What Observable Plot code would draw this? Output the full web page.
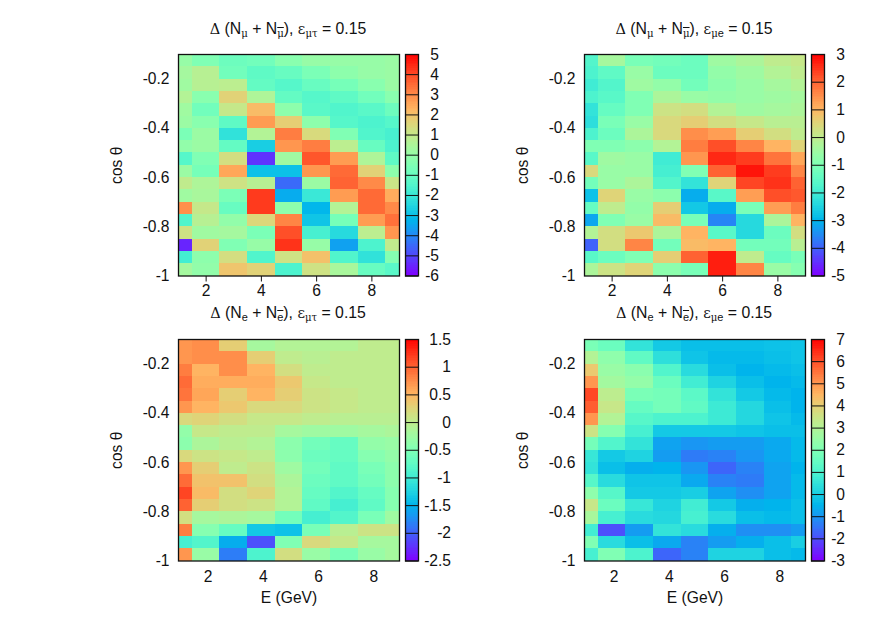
<!DOCTYPE html>
<html><head><meta charset="utf-8">
<script src="https://cdn.jsdelivr.net/npm/d3@7"></script>
<script src="https://cdn.jsdelivr.net/npm/@observablehq/plot@0.6"></script>
<style>
html,body{margin:0;padding:0;background:#fff}
#chart{position:relative;width:893px;height:625px;overflow:hidden;font-family:"Liberation Sans",Arial,sans-serif;color:#111}
#chart svg{position:absolute;background:transparent;max-width:none;overflow:visible}
.ttl{position:absolute;width:300px;text-align:center;font-size:15.8px;line-height:18px;white-space:nowrap}
.ttl sub{font-size:11px;line-height:0;vertical-align:-3px}
.ttl i{font-style:normal;font-family:"DejaVu Serif","Liberation Serif",serif;font-size:.92em}
.ov{text-decoration:overline}
</style></head><body><div id="chart"></div>
<script>
const energyEdges=[1,1.5,2.5,3.5,4.5,5.5,6.5,7.5,8.5,9];
const cosEdges=[-0.1,-0.15,-0.2,-0.25,-0.3,-0.35,-0.4,-0.45,-0.5,-0.55,-0.6,-0.65,-0.7,-0.75,-0.8,-0.85,-0.9,-0.95,-1];
const cosTicks=[-1,-0.8,-0.6,-0.4,-0.2];
const energyTicks=[2,4,6,8];
const muTau=[
[0,-0.5,-0.9,-0.8,-0.3,0,0,0,0.1],
[0.3,0.7,-0.8,-1.2,-1,-0.6,-0.2,0,0.1],
[0.2,0.7,0.8,-1.1,-1.4,-1,-0.7,-0.3,0.1],
[0.6,-0.3,1.6,0.5,-1.1,-1.4,-1.2,-0.8,-0.3],
[0.2,-0.8,1,2.1,-0.2,-1.3,-1.5,-1.3,-0.9],
[0.1,-0.3,-1.2,2.7,1.7,-0.2,-1.4,-1.6,-1.4],
[-0.6,0.1,-2.2,0.6,3.2,1.4,-0.5,-1.5,-1.7],
[-0.1,0.1,-1.1,-2.7,2.8,3.2,0.8,-1,-1.6],
[-1.4,-0.5,1.3,-5.3,0.2,3.8,2.7,0.5,-1.2],
[0.1,-0.7,2.5,-3,-3,2.8,3.5,1.6,-0.2],
[0.9,0.5,1.2,0.7,-4.5,0.1,3.6,3,1.1],
[0.2,0.4,-0.6,4.2,-3.4,-2,2.7,3.5,2.4],
[2.9,1,-1,4.2,-0.2,-3.2,0.6,3.5,3],
[-1.5,0.7,-0.1,1.5,3.1,-2.9,-0.7,2.7,3.4],
[1.2,0.2,0.3,-0.6,3.9,-1.7,-2.4,0.8,2.8],
[-5.5,1.6,-0.5,0,4.3,0,-3.6,-1.6,0.9],
[-1.8,-0.2,1.3,-1.5,1.2,2,-1.5,-2.2,-0.4],
[0.3,-0.1,1.9,1.6,-1.6,1.2,0.4,-1,-1.3]];
const muE=[
[-1.7,-0.4,-1.1,-1.2,-1.3,-0.5,-0.3,0,0.1],
[-1.8,-1.5,-0.6,-1.3,-1.3,-0.7,-0.5,-0.2,0],
[-2,-1.7,-0.5,-0.7,-1.2,-0.8,-0.6,-0.4,-0.2],
[-1.8,-1.6,-1,-0.3,-0.6,-0.7,-0.6,-0.5,-0.4],
[-2.2,-1.4,-1,0.2,0.3,-0.2,-0.5,-0.4,-0.3],
[-2.3,-1.1,-0.6,0.4,0.6,0.3,0.1,-0.1,-0.1],
[-1.8,-1.3,-0.3,0.4,1.5,1.3,0.6,0.3,0],
[-1,-1,-0.8,-0.2,1.7,2.2,1.6,1,0.5],
[-1.6,-0.5,-0.6,-2,1.4,2.6,2.4,1.8,1.2],
[0.4,-0.6,-0.6,-1.9,-1,2,2.8,2.4,1.6],
[-1.2,-0.6,-0.3,-1.7,-2.2,0.5,2.3,2.5,2],
[-2.8,0.5,-0.6,-0.8,-3.1,-1.6,1.3,2.2,2.1],
[-1.4,0,-0.7,0.6,-2.7,-3.1,-1.1,1.3,1.7],
[-3.2,-1,-0.6,0.9,-1.1,-3.6,-2.4,-0.3,1],
[-0.2,0.3,0.7,-0.3,1,-1.6,-2.4,-1.3,0.3],
[-4,0.3,1.6,-1.2,0.9,1,-1.2,-1.2,-0.1],
[-1.6,-1.3,-1,0.6,2,2.7,0,-1.4,-1.1],
[-0.3,0.2,0.5,-0.8,-1.1,2.7,1.6,-0.6,-0.9]];
const eTau=[
[0.7,0.75,0.3,-0.2,-0.1,-0.1,-0.1,0,0],
[0.7,0.75,0.75,0.3,0,-0.05,0,0,0],
[0.85,0.5,0.75,0.5,0.15,0,0,0,0],
[0.95,0.55,0.55,0.55,0.35,0.05,0,0,0],
[0.9,0.6,0.3,0.5,0.3,0.1,0.05,0,0],
[0.7,0.5,0.35,0.2,0.2,0.1,0.05,0,0],
[0.2,0.25,0.15,0.05,0.05,0,-0.05,-0.05,-0.05],
[-0.35,0.05,0,0,-0.2,-0.25,-0.25,-0.2,-0.15],
[-0.4,-0.15,-0.05,-0.1,-0.4,-0.6,-0.7,-0.35,-0.3],
[0.2,0.1,0.05,0,-0.4,-0.65,-0.7,-0.45,-0.35],
[0.7,0.3,0,0.1,-0.25,-0.6,-0.75,-0.55,-0.4],
[0.95,0.4,0.4,0.15,-0.15,-0.65,-0.75,-0.6,-0.4],
[1.15,0.45,0.15,0.25,-0.1,-0.7,-0.85,-0.7,-0.45],
[1,0.3,0.15,0.1,-0.1,-0.75,-0.95,-0.75,-0.45],
[0.15,-0.2,-0.15,-0.2,-0.6,-0.95,-0.85,-0.55,-0.25],
[0.85,-0.45,-0.7,-1.35,-1.4,-0.55,-0.05,0.1,0.1],
[-0.95,-0.85,-1.55,-2.1,-0.5,0.2,0.05,-0.2,-0.2],
[0.7,-0.3,-1.85,-0.9,0.15,-0.3,-0.55,-0.3,-0.2]];
const eE=[
[1.9,1.6,0.5,-0.1,-0.3,-0.3,-0.3,-0.25,-0.2],
[3,2.3,1.4,0.4,-0.2,-0.4,-0.4,-0.3,-0.2],
[4.1,2.5,2.2,1.1,0.3,-0.3,-0.5,-0.4,-0.3],
[5,2.7,2.4,1.6,0.8,0.1,-0.3,-0.5,-0.4],
[6.1,3.2,1.9,1.8,1.3,0.5,-0.1,-0.4,-0.5],
[5.8,3.4,1.5,1.8,1.4,0.7,0.2,-0.3,-0.5],
[5,3,1.2,1,1,0.7,0.2,-0.2,-0.4],
[3.5,2.1,0.9,-0.1,-0.1,-0.1,-0.2,-0.3,-0.3],
[1.8,1.1,0.5,-0.8,-1,-0.9,-0.9,-0.7,-0.4],
[0.6,-0.1,0.1,-0.9,-1.4,-1.3,-1,-0.7,-0.4],
[0.5,-0.3,-0.6,-0.5,-1,-1.7,-1.3,-0.8,-0.5],
[1.2,0.3,-0.2,-0.2,-0.7,-1.3,-1.4,-0.8,-0.4],
[2.3,1.2,-0.1,-0.1,0,-0.8,-1.1,-0.8,-0.4],
[3.4,1.6,0.6,0.1,0.8,-0.1,-0.6,-0.5,-0.3],
[2.8,0.9,0.3,0.2,0.9,0.3,-0.3,-0.4,-0.3],
[0.8,-2,-0.9,0.5,0.3,-0.6,-1.1,-1.1,-0.9],
[2,0.3,-0.3,-0.7,-1.3,-0.9,-0.6,-0.3,0],
[0.9,2,1,-1.7,-1.3,0.1,0.1,-0.3,-0.4]];
const barTicksA=[-6,-5,-4,-3,-2,-1,0,1,2,3,4,5];
const barTicksB=[-5,-4,-3,-2,-1,0,1,2,3];
const barTicksC=[-2.5,-2,-1.5,-1,-0.5,0,0.5,1,1.5];
const barTicksD=[-3,-2,-1,0,1,2,3,4,5,6,7];
const titles=[
'<i>Δ</i> (N<sub><i>μ</i></sub> + N<sub><span class="ov"><i>μ</i></span></sub>), <i>ε</i><sub><i>μτ</i></sub> = 0.15',
'<i>Δ</i> (N<sub><i>μ</i></sub> + N<sub><span class="ov"><i>μ</i></span></sub>), <i>ε</i><sub><i>μ</i>e</sub> = 0.15',
'<i>Δ</i> (N<sub>e</sub> + N<sub><span class="ov">e</span></sub>), <i>ε</i><sub><i>μτ</i></sub> = 0.15',
'<i>Δ</i> (N<sub>e</sub> + N<sub><span class="ov">e</span></sub>), <i>ε</i><sub><i>μ</i>e</sub> = 0.15'];

// gnuplot "rainbow" palette, rgbformulae 33,13,10
const rainbow=t=>{
  const c=v=>Math.round(255*Math.max(0,Math.min(1,v)));
  return `rgb(${c(Math.abs(2*t-0.5))},${c(Math.sin(Math.PI*t))},${c(Math.cos(Math.PI*t/2))})`;
};
const chart=document.getElementById("chart");
const font={fontFamily:'"Liberation Sans",Arial,sans-serif',fontSize:"15.6px"};
const ink="#111";
function place(svg,l,t){svg.style.left=l+"px";svg.style.top=t+"px";chart.appendChild(svg);}

function panel({rows,ticks,left,top,labelX,title,labelRight}){
  const dom=[ticks[0],ticks[ticks.length-1]];
  const cells=rows.flatMap((r,i)=>r.map((v,j)=>({x1:energyEdges[j],x2:energyEdges[j+1],y1:cosEdges[i],y2:cosEdges[i+1],v})));
  const W=221,H=221.5,mL=80,mR=6,mT=12,mB=58;
  const heat=Plot.plot({
    width:W+mL+mR,height:H+mT+mB,marginLeft:mL,marginRight:mR,marginTop:mT,marginBottom:mB,
    style:font,
    x:{domain:[1,9]},y:{domain:[-1,-0.1]},
    color:{type:"linear",domain:dom,interpolate:rainbow},
    marks:[
      Plot.rect(cells,{x1:"x1",x2:"x2",y1:"y1",y2:"y2",fill:"v",inset:0,shapeRendering:"crispEdges"}),
      Plot.frame({stroke:ink,strokeWidth:1.3}),
      Plot.axisY({ticks:cosTicks,tickSize:0,tickPadding:9,tickFormat:d=>String(d),label:"cos θ",labelAnchor:"center",labelArrow:"none",labelOffset:68,fontSize:15.6,fill:ink}),
      labelX?Plot.axisX({ticks:energyTicks,tickSize:0,tickPadding:10,dx:2,tickFormat:d=>String(d),label:"E (GeV)",labelAnchor:"center",labelArrow:"none",labelOffset:42,fontSize:15.6,fill:ink}):null
    ]
  });
  place(heat,left-mL,top-mT);
  const steps=d3.range(0,128).map(i=>({a:dom[0]+(dom[1]-dom[0])*i/128,b:dom[0]+(dom[1]-dom[0])*(i+1)/128}));
  const bW=11,bR=50;
  const bar=Plot.plot({
    width:bW+2+bR+2,height:H+mT+mB,marginLeft:2,marginRight:bR,marginTop:mT,marginBottom:mB,
    style:font,
    x:{domain:[0,1],axis:null},y:{domain:dom,axis:null},
    color:{type:"linear",domain:dom,interpolate:rainbow},
    marks:[
      Plot.rect(steps,{x1:0,x2:1,y1:"a",y2:"b",fill:d=>(d.a+d.b)/2,shapeRendering:"crispEdges"}),
      Plot.ruleY(ticks,{stroke:ink,strokeWidth:1}),
      Plot.frame({stroke:ink,strokeWidth:1.3}),
      Plot.text(ticks,{y:d=>d,text:d=>String(d),frameAnchor:"left",textAnchor:"end",dx:bW+labelRight,fontSize:15.6,fill:ink})
    ]
  });
  place(bar,left+W+6.5-2,top-mT);
  const tt=document.createElement("div");
  tt.className="ttl";tt.innerHTML=title;
  tt.style.left=(left+W/2-150)+"px";tt.style.top=(top-34.5)+"px";
  chart.appendChild(tt);
}
panel({rows:muTau,ticks:barTicksA,left:177.5,top:54,labelX:false,title:titles[0],labelRight:22.5});
panel({rows:muE,ticks:barTicksB,left:583.5,top:54,labelX:false,title:titles[1],labelRight:22.5});
panel({rows:eTau,ticks:barTicksC,left:177.5,top:338.5,labelX:true,title:titles[2],labelRight:34.5});
panel({rows:eE,ticks:barTicksD,left:583.5,top:338.5,labelX:true,title:titles[3],labelRight:22.5});
</script></body></html>
